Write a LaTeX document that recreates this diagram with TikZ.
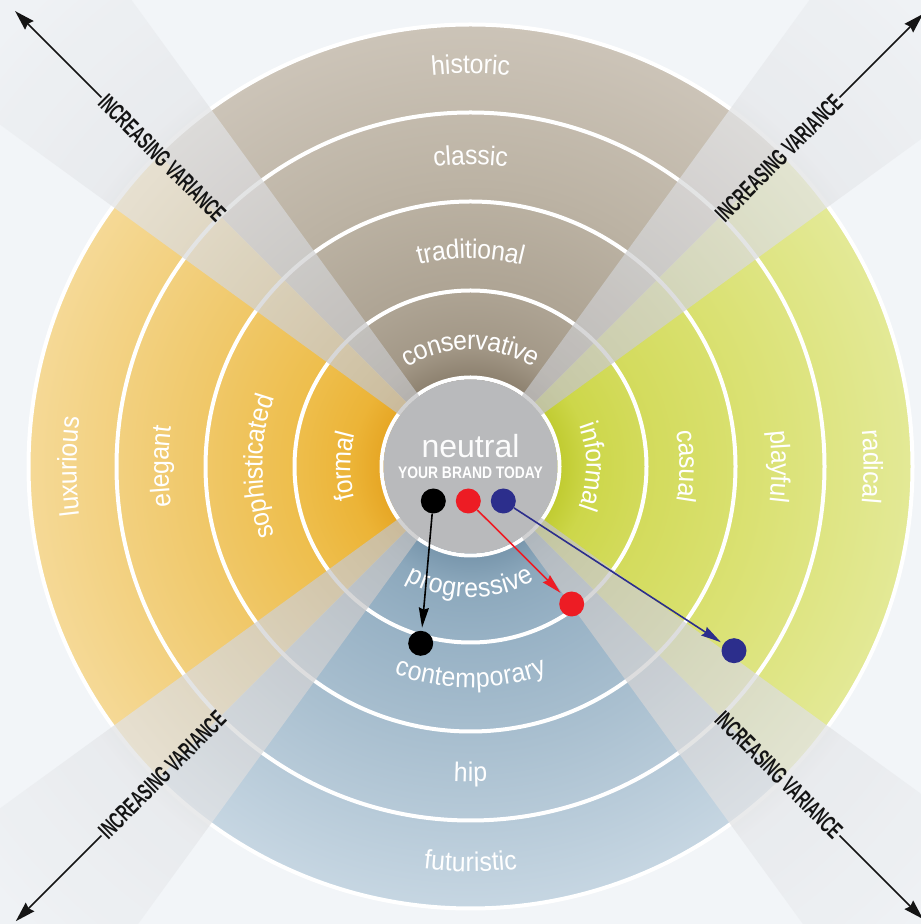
\documentclass[tikz,border=0pt]{standalone}
\usepackage{fontspec}
\setmainfont{Liberation Sans}
\newfontfamily\ringfont[FakeStretch=0.92]{Liberation Sans}
\newfontfamily\varfont[FakeStretch=0.6]{Liberation Sans}
\newfontfamily\brandfont[FakeStretch=0.83]{Liberation Sans}
\usetikzlibrary{decorations.text, arrows.meta}

% palette
\definecolor{bg}{RGB}{242,245,248}
\definecolor{hub}{RGB}{185,186,188}
\definecolor{dotred}{RGB}{237,28,36}
\definecolor{dotblue}{RGB}{44,46,140}
\definecolor{ink}{RGB}{20,20,20}

\definecolor{tanA}{RGB}{140,128,110}
\definecolor{tanB}{RGB}{162,151,134}
\definecolor{tanC}{RGB}{174,164,148}
\definecolor{tanD}{RGB}{188,179,164}
\definecolor{tanE}{RGB}{204,196,184}

\definecolor{yelA}{RGB}{230,166,36}
\definecolor{yelB}{RGB}{236,180,55}
\definecolor{yelC}{RGB}{238,190,76}
\definecolor{yelD}{RGB}{240,201,108}
\definecolor{yelE}{RGB}{245,217,150}

\definecolor{grnA}{RGB}{192,203,48}
\definecolor{grnB}{RGB}{205,215,74}
\definecolor{grnC}{RGB}{211,219,92}
\definecolor{grnD}{RGB}{218,225,114}
\definecolor{grnE}{RGB}{227,233,150}

\definecolor{bluA}{RGB}{120,150,172}
\definecolor{bluB}{RGB}{140,168,188}
\definecolor{bluC}{RGB}{152,178,197}
\definecolor{bluD}{RGB}{170,192,208}
\definecolor{bluE}{RGB}{198,214,226}

\definecolor{wedA}{RGB}{185,185,186}
\definecolor{wedB}{RGB}{202,202,203}
\definecolor{wedC}{RGB}{226,227,229}
\definecolor{wedD}{RGB}{230,232,235}
\definecolor{wedE}{RGB}{240,243,246}

% radial fills for the four sectors (25bp = outer ring edge)
\pgfdeclareradialshading{tanshade}{\pgfpoint{0bp}{0bp}}{color(0bp)=(tanA); color(5bp)=(tanA); color(6.75bp)=(tanB); color(10bp)=(tanC); color(16bp)=(tanD); color(25bp)=(tanE); color(50bp)=(tanE)}
\pgfdeclareradialshading{yelshade}{\pgfpoint{0bp}{0bp}}{color(0bp)=(yelA); color(5bp)=(yelA); color(6.75bp)=(yelB); color(10bp)=(yelC); color(16bp)=(yelD); color(25bp)=(yelE); color(50bp)=(yelE)}
\pgfdeclareradialshading{grnshade}{\pgfpoint{0bp}{0bp}}{color(0bp)=(grnA); color(5bp)=(grnA); color(6.75bp)=(grnB); color(10bp)=(grnC); color(16bp)=(grnD); color(25bp)=(grnE); color(50bp)=(grnE)}
\pgfdeclareradialshading{blushade}{\pgfpoint{0bp}{0bp}}{color(0bp)=(bluA); color(5bp)=(bluA); color(6.75bp)=(bluB); color(10bp)=(bluC); color(16bp)=(bluD); color(25bp)=(bluE); color(50bp)=(bluE)}
% translucent diagonal beams (25bp = 680pt)
\pgfdeclareradialshading{wedshade}{\pgfpoint{0bp}{0bp}}{color(0bp)=(wedA); color(6.45bp)=(wedB); color(16.25bp)=(wedC); color(16.9bp)=(wedD); color(25bp)=(wedE); color(50bp)=(wedE)}

\newcommand\ringlabel[4]{% start angle, end angle, radius, word
  \path[decorate, decoration={text along path, text align=center, raise=-7pt,
    text color=white, text={|\ringfont\fontsize{27}{30}\selectfont|#4}}]
    (#1:#3) arc[start angle=#1, end angle=#2, radius=#3];}

\newcommand\sector[3]{% from angle, to angle, shading
  \begin{scope}
    \clip (0,0) -- (#1:900) -- ({(#1+#2)/2}:900) -- (#2:900) -- cycle;
    \shade[shading=#3] (0,0) circle (442);
  \end{scope}}

\newcommand\beam[1]{% centre angle of a translucent beam
  \begin{scope}
    \clip (0,0) -- (#1-9:1000) -- (#1+9:1000) -- cycle;
    \shade[shading=wedshade, opacity=0.75] (0,0) circle (680);
  \end{scope}}

\tikzset{
  ringline/.style={draw=white, line width=4pt},
  dotnode/.style={circle, minimum size=25pt, inner sep=0pt},
  dotarrow/.style={line width=1.6pt, shorten >=3pt,
    -{Stealth[length=20pt, width=10pt, inset=2pt]}},
  vartext/.style={font=\varfont\bfseries\fontsize{24}{26}\selectfont,
    text=ink, inner sep=1.5pt},
  vararrow/.style={draw=ink, line width=1.7pt,
    -{Stealth[length=20pt, width=12pt, inset=2pt]}}
}

\begin{document}
\begin{tikzpicture}[x=1pt, y=1pt]
\useasboundingbox (0,0) rectangle (921,924);
\clip (0,0) rectangle (921,924);
\fill[bg] (0,0) rectangle (921,924);

\begin{scope}[shift={(470.5,457.5)}]
  % coloured sectors
  \sector{45}{135}{tanshade}
  \sector{135}{225}{yelshade}
  \sector{225}{315}{blushade}
  \sector{-45}{45}{grnshade}

  % ring borders
  \foreach \r in {89,176,265,354,442}
    \draw[ringline] (0,0) circle (\r);

  % diagonal beams
  \beam{45}
  \beam{135}
  \beam{225}
  \beam{315}

  % hub
  \fill[hub] (0,0) circle (87);
  \node[anchor=base, text=white!96!hub, font=\fontsize{32}{34}\selectfont] (neutral) at (0,8.5) {neutral};
  \node[anchor=base, text=white, font=\brandfont\bfseries\fontsize{16.7}{18}\selectfont] (brand) at (0,-12.5) {YOUR BRAND TODAY};

  % ring words
  \ringlabel{130}{50}{124}{conservative}
  \ringlabel{130}{50}{215}{traditional}
  \ringlabel{130}{50}{309}{classic}
  \ringlabel{130}{50}{400}{historic}

  \ringlabel{220}{140}{127}{formal}
  \ringlabel{220}{140}{215}{sophisticated}
  \ringlabel{220}{140}{309}{elegant}
  \ringlabel{220}{140}{401}{luxurious}

  \ringlabel{230}{310}{124}{progressive}
  \ringlabel{230}{310}{214}{contemporary}
  \ringlabel{230}{310}{308}{hip}
  \ringlabel{230}{310}{398}{futuristic}

  \ringlabel{40}{-40}{123}{informal}
  \ringlabel{40}{-40}{216}{casual}
  \ringlabel{40}{-40}{308}{playful}
  \ringlabel{40}{-40}{400}{radical}

  % positioning dots and moves
  \node[dotnode, fill=black]   (blackNow)  at (-37.2,-34.5) {};
  \node[dotnode, fill=dotred]  (redNow)    at (-2.2,-34.5) {};
  \node[dotnode, fill=dotblue] (blueNow)   at (32.8,-34.5) {};
  \node[dotnode, fill=black]   (blackGoal) at (-49.8,-176.8) {};
  \node[dotnode, fill=dotred]  (redGoal)   at (101.2,-137.5) {};
  \node[dotnode, fill=dotblue] (blueGoal)  at (263.5,-184.2) {};
  \draw[dotarrow, draw=black, fill=black] (blackNow) -- (blackGoal);
  \draw[dotarrow, draw=dotred, fill=dotred] (redNow) -- (redGoal);
  \draw[dotarrow, draw=dotblue, fill=dotblue] (blueNow) -- (blueGoal);

  % variance axes
  \node[vartext, rotate=-45] (varUL) at (135:436) {INCREASING VARIANCE};
  \node[vartext, rotate=45]  (varUR) at (45:436)  {INCREASING VARIANCE};
  \node[vartext, rotate=45]  (varLL) at (225:436) {INCREASING VARIANCE};
  \node[vartext, rotate=-45] (varLR) at (315:436) {INCREASING VARIANCE};
  \coordinate (tipUL) at (135:644);
  \coordinate (tipUR) at (45:640);
  \coordinate (tipLL) at (225:643);
  \coordinate (tipLR) at (315:640);
  \draw[vararrow] (varUL.west) -- (tipUL);
  \draw[vararrow] (varUR.east) -- (tipUR);
  \draw[vararrow] (varLL.west) -- (tipLL);
  \draw[vararrow] (varLR.east) -- (tipLR);
\end{scope}
\end{tikzpicture}
\end{document}
